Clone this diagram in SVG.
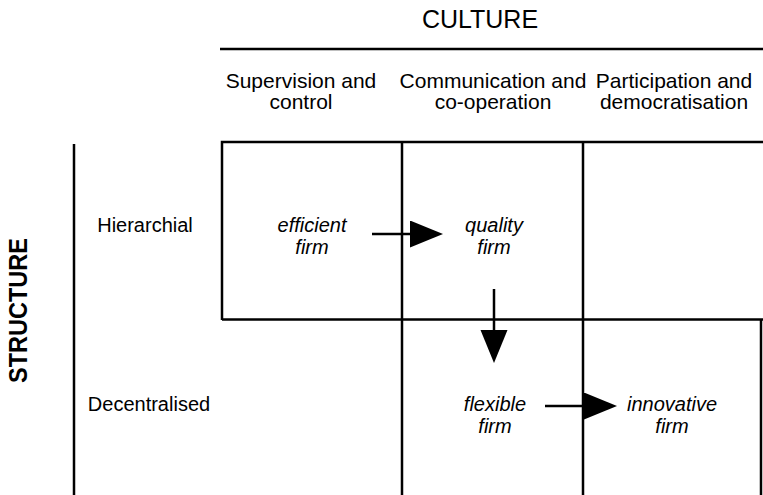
<svg xmlns="http://www.w3.org/2000/svg" width="763" height="495" viewBox="0 0 763 495">
  <style>
    .ln { stroke: #000; stroke-width: 2.5; fill: none; }
    .hd { font-family: "Liberation Sans", Arial, sans-serif; font-size: 21px; fill: #000; text-anchor: middle; }
    .rw { font-family: "Liberation Sans", Arial, sans-serif; font-size: 20px; fill: #000; text-anchor: middle; }
    .fm { font-family: "Liberation Sans", Arial, sans-serif; font-size: 20px; font-style: italic; fill: #000; text-anchor: middle; }
    .ax { font-family: "Liberation Sans", Arial, sans-serif; fill: #000; text-anchor: middle; }
  </style>
  <defs>
    <marker id="head" markerUnits="userSpaceOnUse" markerWidth="34" markerHeight="28" refX="1" refY="13.5" orient="auto">
      <path d="M0,0 L33,13.5 L0,27 Z" fill="#000"/>
    </marker>
  </defs>
  <rect width="763" height="495" fill="#fff"/>

  <!-- axis titles -->
  <g id="axis-culture">
    <text class="ax" x="480" y="28" font-size="25">CULTURE</text>
    <line class="ln" x1="220" y1="49" x2="763" y2="49"/>
  </g>
  <g id="axis-structure">
    <text class="ax" font-size="25" font-weight="bold" textLength="145" lengthAdjust="spacingAndGlyphs" transform="translate(27,310.5) rotate(-90)">STRUCTURE</text>
    <line class="ln" x1="74" y1="144" x2="74" y2="495"/>
  </g>

  <!-- column headings -->
  <g id="col-supervision">
    <text class="hd" x="301" y="88">Supervision and</text>
    <text class="hd" x="301" y="109">control</text>
  </g>
  <g id="col-communication">
    <text class="hd" x="493" y="88">Communication and</text>
    <text class="hd" x="493" y="109">co-operation</text>
  </g>
  <g id="col-participation">
    <text class="hd" x="674" y="88">Participation and</text>
    <text class="hd" x="674" y="109">democratisation</text>
  </g>

  <!-- row headings -->
  <g id="row-hierarchial">
    <text class="rw" x="145" y="232">Hierarchial</text>
  </g>
  <g id="row-decentralised">
    <text class="rw" x="149" y="411">Decentralised</text>
  </g>

  <!-- grid -->
  <g id="grid">
    <path class="ln" d="M222,320 V142 H763"/>
    <line class="ln" x1="222" y1="319.5" x2="763" y2="319.5"/>
    <line class="ln" x1="402" y1="142" x2="402" y2="495"/>
    <line class="ln" x1="583" y1="142" x2="583" y2="495"/>
    <line class="ln" x1="761" y1="319.5" x2="761" y2="495"/>
  </g>

  <!-- firm types -->
  <g id="efficient-firm">
    <text class="fm" x="312" y="232">efficient</text>
    <text class="fm" x="312" y="254">firm</text>
  </g>
  <g id="quality-firm">
    <text class="fm" x="494" y="232">quality</text>
    <text class="fm" x="494" y="254">firm</text>
  </g>
  <g id="flexible-firm">
    <text class="fm" x="495" y="411">flexible</text>
    <text class="fm" x="495" y="433">firm</text>
  </g>
  <g id="innovative-firm">
    <text class="fm" x="672" y="411">innovative</text>
    <text class="fm" x="672" y="433">firm</text>
  </g>

  <!-- development path -->
  <g id="connectors">
    <line class="ln" x1="372" y1="234" x2="411" y2="234" marker-end="url(#head)"/>
    <line class="ln" x1="494" y1="289" x2="494" y2="331" marker-end="url(#head)"/>
    <line class="ln" x1="545" y1="406" x2="585" y2="406" marker-end="url(#head)"/>
  </g>
</svg>
